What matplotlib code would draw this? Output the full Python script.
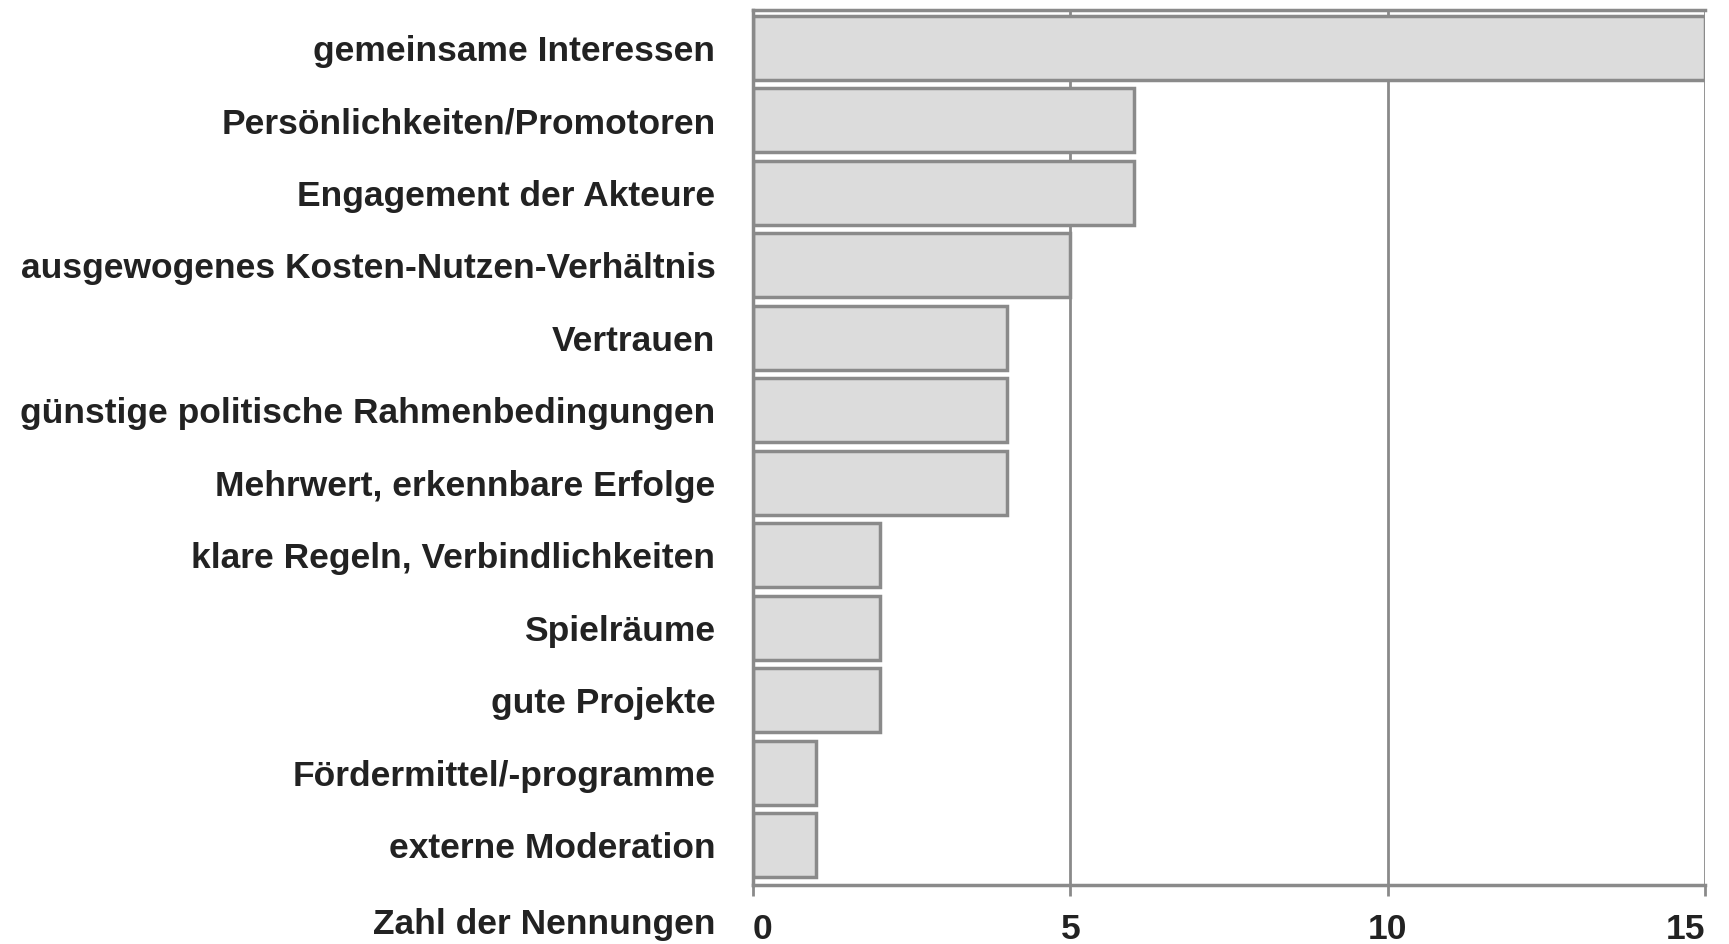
import matplotlib.pyplot as plt

categories = [
    "gemeinsame Interessen",
    "Persönlichkeiten/Promotoren",
    "Engagement der Akteure",
    "ausgewogenes Kosten-Nutzen-Verhältnis",
    "Vertrauen",
    "günstige politische Rahmenbedingungen",
    "Mehrwert, erkennbare Erfolge",
    "klare Regeln, Verbindlichkeiten",
    "Spielräume",
    "gute Projekte",
    "Fördermittel/-programme",
    "externe Moderation",
]
counts = [15, 6, 6, 5, 4, 4, 4, 2, 2, 2, 1, 1]
x_ticks = [0, 5, 10, 15]

plt.rcParams['font.family'] = ['Liberation Sans', 'DejaVu Sans']

fig = plt.figure(figsize=(17.29, 9.44), dpi=100)
ax = fig.add_axes([0.4355, 0.0625, 0.5506, 0.927])

ypos = list(range(len(categories)))
ax.barh(ypos, counts, height=0.88, color='#dcdcdc', edgecolor='#8a8a8a',
        linewidth=2.5, zorder=2)

ax.set_xlim(0, 15)
ax.set_ylim(11.55, -0.52)
ax.set_yticks(ypos)
ax.set_yticklabels(categories, fontsize=25.5, fontweight='bold', color='#222222')
ax.tick_params(axis='y', length=0, pad=27)

ax.set_xticks(x_ticks)
ax.set_xticklabels([str(t) for t in x_ticks], fontsize=25.5, fontweight='bold',
                   color='#222222')
ax.tick_params(axis='x', length=8, width=2, color='#8a8a8a', pad=12)
labels = ax.get_xticklabels()
labels[0].set_ha('left')
labels[-1].set_ha('right')

ax.grid(axis='x', color='#8a8a8a', linewidth=2, zorder=1)
ax.set_axisbelow(True)
for side in ['left', 'bottom', 'top']:
    ax.spines[side].set_color('#8a8a8a')
    ax.spines[side].set_linewidth(2.5)
ax.spines['right'].set_visible(False)

fig.text(0.414, 0.011, "Zahl der Nennungen", ha='right', va='baseline',
         fontsize=25.5, fontweight='bold', color='#222222')

fig.savefig('out.png', dpi=100)
